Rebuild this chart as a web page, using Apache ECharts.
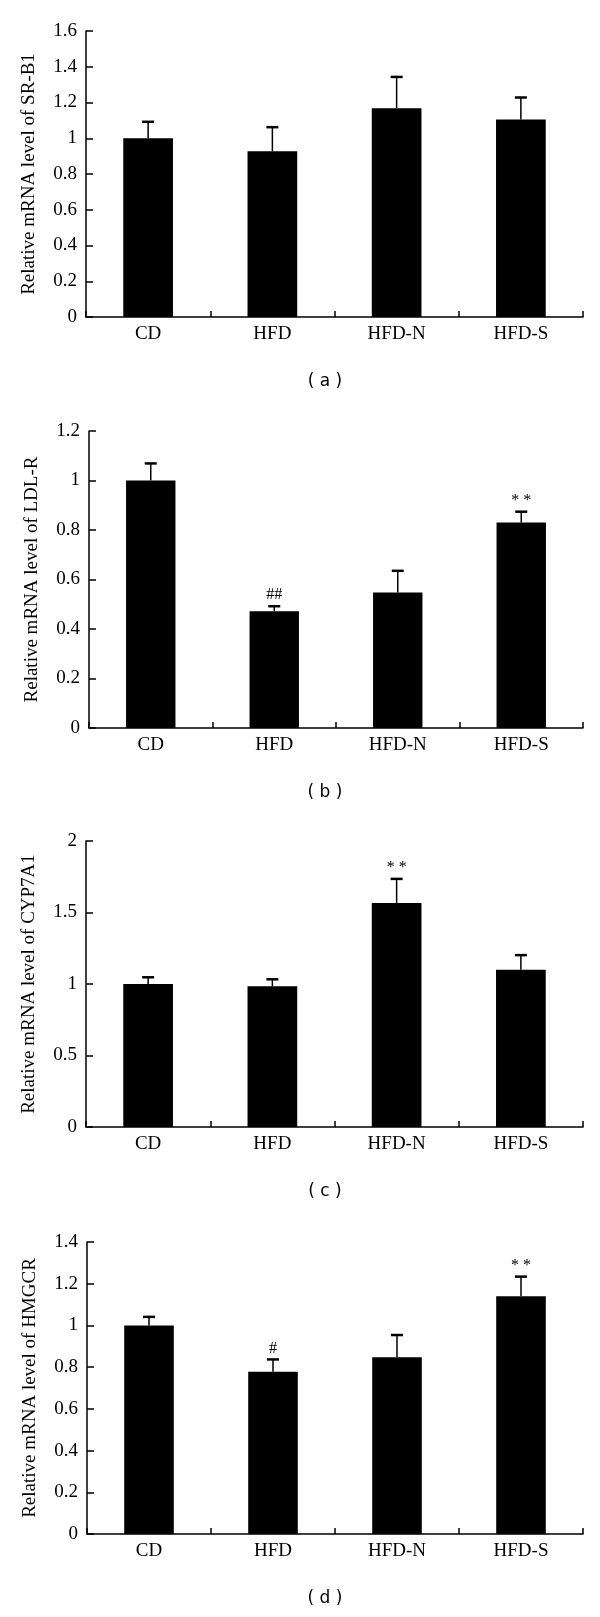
<!DOCTYPE html>
<html>
<head>
<meta charset="utf-8">
<script src="https://cdn.jsdelivr.net/npm/echarts@6/dist/echarts.min.js"></script>
<style>
html,body{margin:0;padding:0;background:#fff;}
#chart{width:600px;height:1617px;}
</style>
</head>
<body>
<div id="chart"></div>
<script>
// ---- data ----
const categories = ['CD', 'HFD', 'HFD-N', 'HFD-S'];

const srb1Mean = [1.0, 0.927, 1.168, 1.105];
const srb1Err  = [0.092, 0.135, 0.175, 0.123];
const srb1Sig  = ['', '', '', ''];

const ldlrMean = [1.0, 0.472, 0.547, 0.830];
const ldlrErr  = [0.069, 0.020, 0.088, 0.044];
const ldlrSig  = ['', '##', '', '* *'];

const cypMean = [1.0, 0.984, 1.567, 1.100];
const cypErr  = [0.047, 0.049, 0.168, 0.102];
const cypSig  = ['', '', '* *', ''];

const hmgMean = [1.0, 0.778, 0.848, 1.140];
const hmgErr  = [0.041, 0.059, 0.106, 0.094];
const hmgSig  = ['', '#', '', '* *'];

const yTitles = ['Relative mRNA level of SR-B1', 'Relative mRNA level of LDL-R',
                 'Relative mRNA level of CYP7A1', 'Relative mRNA level of HMGCR'];
const yMax = [1.6, 1.2, 2, 1.4];
const yInterval = [0.2, 0.2, 0.5, 0.2];
const panelLabels = ['( a )', '( b )', '( c )', '( d )'];

// ---- layout ----
const grids = [
  {left: 86, top: 31,   width: 497, height: 286},
  {left: 89, top: 431,  width: 494, height: 297},
  {left: 86, top: 841,  width: 497, height: 286},
  {left: 87, top: 1242, width: 496, height: 292}
];
const serif = '"Liberation Serif", "Times New Roman", serif';
const panels = [
  [srb1Mean, srb1Err, srb1Sig],
  [ldlrMean, ldlrErr, ldlrSig],
  [cypMean, cypErr, cypSig],
  [hmgMean, hmgErr, hmgSig]
];

const option = {
  backgroundColor: '#fff',
  animation: false,
  grid: grids.map(g => Object.assign({containLabel: false, outerBoundsMode: 'none'}, g)),
  xAxis: grids.map((g, i) => ({
    type: 'category', gridIndex: i, data: categories,
    axisLine: {lineStyle: {color: '#000', width: 1.5}},
    axisTick: {show: true, inside: true, length: 6, interval: 0, lineStyle: {color: '#000', width: 1.5}},
    axisLabel: {color: '#000', fontFamily: serif, fontSize: 19, margin: 8, interval: 0},
    splitLine: {show: false}
  })),
  yAxis: grids.map((g, i) => ({
    type: 'value', gridIndex: i, min: 0, max: yMax[i], interval: yInterval[i],
    name: yTitles[i], nameLocation: 'middle', nameGap: 47, nameRotate: 90,
    nameTextStyle: {color: '#000', fontFamily: serif, fontSize: 19},
    axisLine: {show: true, lineStyle: {color: '#000', width: 1.5}},
    axisTick: {show: true, inside: true, length: 7, lineStyle: {color: '#000', width: 1.5}},
    axisLabel: {color: '#000', fontFamily: serif, fontSize: 19, margin: 9},
    splitLine: {show: false}
  })),
  series: [],
  graphic: panelLabels.map((t, i) => ({
    type: 'text',
    x: 325, y: grids[i].top + grids[i].height + 65,
    style: {text: t, fill: '#000', font: '17px "DejaVu Sans", sans-serif',
            textAlign: 'center', textVerticalAlign: 'middle'}
  }))
};

panels.forEach(([mean, err, sig], i) => {
  option.series.push({
    type: 'bar', xAxisIndex: i, yAxisIndex: i, data: mean,
    barWidth: '40%', itemStyle: {color: '#000'}, silent: true
  });
  option.series.push({
    type: 'custom', xAxisIndex: i, yAxisIndex: i,
    data: mean.map((m, k) => [k, m, m + err[k], sig[k]]),
    encode: {x: 0, y: [1, 2]},
    silent: true, z: 5,
    renderItem: function (params, api) {
      const k = api.value(0);
      const base = api.coord([k, api.value(1)]);
      const top = api.coord([k, api.value(2)]);
      const txt = sig[k];
      const children = [
        {type: 'line', shape: {x1: base[0], y1: base[1], x2: top[0], y2: top[1]},
         style: {stroke: '#000', lineWidth: 1.5}},
        {type: 'line', shape: {x1: top[0] - 6, y1: top[1], x2: top[0] + 6, y2: top[1]},
         style: {stroke: '#000', lineWidth: 2.5}}
      ];
      if (txt) {
        children.push({type: 'text', style: {
          text: txt, x: top[0], y: top[1] - 3, textAlign: 'center', textVerticalAlign: 'bottom',
          fill: '#000', font: '16px ' + serif}});
      }
      return {type: 'group', children: children};
    }
  });
});

const chart = echarts.init(document.getElementById('chart'), null, {renderer: 'canvas'});
chart.setOption(option);
</script>
</body>
</html>
